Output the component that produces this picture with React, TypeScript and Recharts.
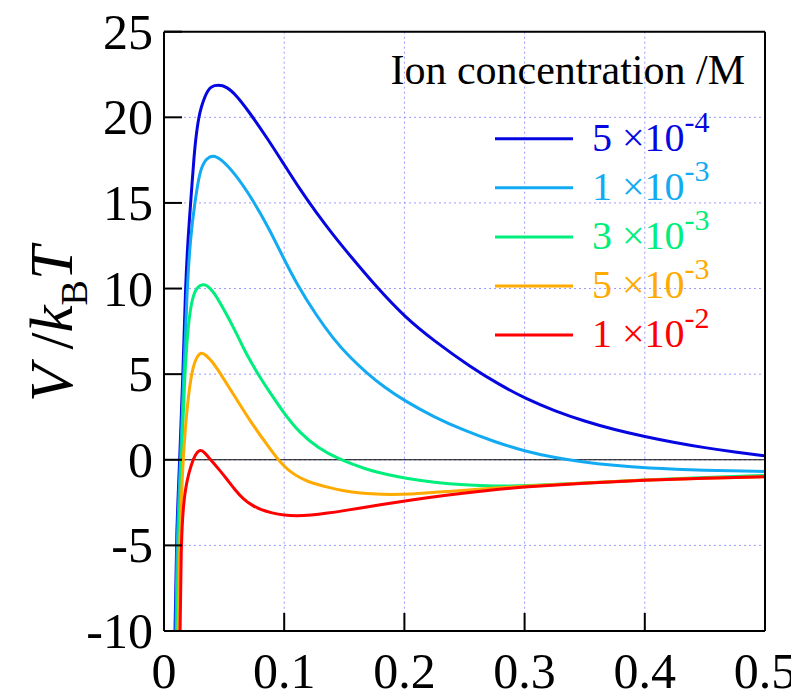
import {
  CartesianGrid,
  Legend,
  Line,
  LineChart,
  ReferenceLine,
  XAxis,
  YAxis,
} from "recharts";

const FONT = '"Liberation Serif", "Times New Roman", serif';

const xTicks = [0, 0.1, 0.2, 0.3, 0.4, 0.5];
const yTicks = [-10, -5, 0, 5, 10, 15, 20, 25];

// ion concentrations, legend label parts and colours
const seriesNames = ["5e-4", "1e-3", "3e-3", "5e-3", "1e-2"];
const mantissas = ["5", "1", "3", "5", "1"];
const exponents = ["-4", "-3", "-3", "-3", "-2"];
const colors = ["#0606e0", "#12aaf2", "#00ee7c", "#ffaa00", "#ff0000"];

// 5e-4 M
const x5e4 = [0.0085, 0.009, 0.0105, 0.0131, 0.0158, 0.0178, 0.02, 0.0222, 0.025, 0.027, 0.0289, 0.031, 0.0339, 0.0365, 0.039, 0.045, 0.052, 0.06, 0.07, 0.0867, 0.0994, 0.113, 0.127, 0.141, 0.155, 0.176, 0.2, 0.2245, 0.255, 0.28, 0.3, 0.325, 0.35, 0.375, 0.4, 0.425, 0.45, 0.475, 0.5];
const y5e4 = [-16, -10, -4, 0, 5, 10, 13, 15, 17.8, 19.1, 20, 20.6, 21.2, 21.55, 21.8, 21.9, 21.8, 21.3, 20.4, 18.7, 17.3, 15.8, 14.4, 13.1, 11.9, 10.15, 8.35, 6.95, 5.42, 4.35, 3.6, 2.85, 2.25, 1.75, 1.35, 1.0, 0.7, 0.45, 0.23];

// 1e-3 M
const x1e3 = [0.0093, 0.0098, 0.011, 0.0139, 0.0164, 0.0192, 0.022, 0.0256, 0.0297, 0.035, 0.0408, 0.047, 0.0589, 0.0728, 0.0867, 0.0994, 0.1106, 0.127, 0.141, 0.155, 0.169, 0.183, 0.2, 0.2245, 0.25, 0.275, 0.3, 0.325, 0.347, 0.375, 0.4, 0.45, 0.5];
const y1e3 = [-16, -10, -4, 0, 5, 10, 13, 15, 16.9, 17.6, 17.8, 17.6, 16.73, 15.3, 13.6, 11.78, 10.25, 8.4, 7.05, 5.95, 5.05, 4.25, 3.45, 2.5, 1.7, 1.05, 0.5, 0.12, -0.12, -0.34, -0.48, -0.62, -0.68];

// 3e-3 M
const x3e3 = [0.0098, 0.0106, 0.0118, 0.0144, 0.0172, 0.02, 0.023, 0.0265, 0.0305, 0.034, 0.038, 0.042, 0.046, 0.052, 0.0589, 0.0655, 0.0728, 0.08, 0.0867, 0.0994, 0.113, 0.128, 0.145, 0.169, 0.185, 0.2, 0.225, 0.25, 0.275, 0.3, 0.35, 0.4, 0.45, 0.5];
const y3e3 = [-16, -10, -5, 0, 5, 7.8, 9.3, 10.0, 10.22, 10.25, 10.05, 9.7, 9.25, 8.5, 7.58, 6.6, 5.64, 4.8, 4.08, 2.75, 1.56, 0.7, 0.04, -0.58, -0.86, -1.07, -1.33, -1.48, -1.54, -1.52, -1.36, -1.17, -1.04, -0.92];

// 5e-3 M
const x5e3 = [0.0107, 0.0117, 0.013, 0.0156, 0.0194, 0.0233, 0.027, 0.0311, 0.035, 0.04, 0.045, 0.0589, 0.0728, 0.0867, 0.0939, 0.1, 0.106, 0.113, 0.12, 0.128, 0.136, 0.15, 0.163, 0.18, 0.205, 0.236, 0.27, 0.3, 0.35, 0.4, 0.45, 0.5];
const y5e3 = [-16, -10, -5, 0, 3.3, 5.25, 6.0, 6.3, 6.1, 5.75, 5.25, 3.7, 2.14, 0.78, 0.1, -0.38, -0.75, -1.05, -1.28, -1.45, -1.6, -1.83, -1.95, -2.03, -2.02, -1.85, -1.67, -1.55, -1.36, -1.17, -1.07, -0.99];

// 1e-2 M
const x1e2 = [0.0127, 0.0133, 0.0142, 0.016, 0.019, 0.0228, 0.026, 0.0297, 0.033, 0.037, 0.041, 0.045, 0.052, 0.059, 0.066, 0.073, 0.08, 0.09, 0.1, 0.11, 0.122, 0.136, 0.15, 0.163, 0.18, 0.205, 0.236, 0.27, 0.3, 0.35, 0.4, 0.45, 0.5];
const y1e2 = [-16, -10, -5, -2.6, -1.2, -0.25, 0.3, 0.6, 0.48, 0.15, -0.17, -0.5, -1.1, -1.75, -2.3, -2.65, -2.9, -3.12, -3.24, -3.28, -3.24, -3.12, -2.97, -2.82, -2.62, -2.35, -2.05, -1.78, -1.58, -1.37, -1.18, -1.07, -0.99];

const seriesX = [x5e4, x1e3, x3e3, x5e3, x1e2];
const seriesY = [y5e4, y1e3, y3e3, y5e3, y1e2];

const toPoints = (xs: number[], ys: number[]) => xs.map((x, i) => ({ x, y: ys[i] }));

function YTick({ x, y, payload }: any) {
  return (
    <text x={x} y={y} dy={17} textAnchor="end" fontFamily={FONT} fontSize={50} fill="#000">
      {payload.value}
    </text>
  );
}

function XTick({ x, y, payload }: any) {
  return (
    <text x={x} y={y} dy={35.5} textAnchor="middle" fontFamily={FONT} fontSize={50} fill="#000">
      {payload.value}
    </text>
  );
}

function YLabel() {
  return (
    <text
      x={64}
      y={316}
      transform="rotate(-90 64 316)"
      textAnchor="middle"
      fontFamily={FONT}
      fontSize={61}
      fill="#000"
    >
      <tspan fontStyle="italic">V</tspan>{" /"}<tspan fontStyle="italic">k</tspan>
      <tspan fontSize={38} dy={15}>B</tspan>
      <tspan fontStyle="italic" dy={-15}>T</tspan>
    </text>
  );
}

// legend box sits at page (380, 40); everything inside is offset from there
function LegendBox() {
  return (
    <svg width={400} height={330} style={{ display: "block", overflow: "visible" }}>
      <text x={365} y={44} textAnchor="end" fontFamily={FONT} fontSize={42} fill="#000">
        Ion concentration /M
      </text>
      {seriesNames.map((name, i) => {
        const y = 98.7 + i * 49.1;
        return (
          <g key={name}>
            <line x1={115} x2={193} y1={y} y2={y} stroke={colors[i]} strokeWidth={3} />
            <text x={212} y={y + 12} fill={colors[i]} fontFamily={FONT} fontSize={40}>
              {mantissas[i]} ×10<tspan dy={-19} fontSize={30}>{exponents[i]}</tspan>
            </text>
          </g>
        );
      })}
    </svg>
  );
}

export default function App() {
  const frame = { stroke: "#000", strokeWidth: 2 };
  return (
    <div style={{ width: 791, height: 684, fontFamily: FONT }}>
      <LineChart width={791} height={684} margin={{ top: 22.7, right: 33, bottom: 1, left: 56 }}>
        <CartesianGrid
          xAxisId="bottom"
          yAxisId="left"
          stroke="#9a9aff"
          strokeDasharray="2 3"
        />
        <XAxis
          xAxisId="bottom"
          dataKey="x"
          type="number"
          domain={[0, 0.5]}
          ticks={xTicks}
          allowDataOverflow
          height={60}
          tickSize={-18}
          tickMargin={39.5}
          tick={<XTick />}
          axisLine={frame}
          tickLine={frame}
        />
        <XAxis
          xAxisId="top"
          orientation="top"
          dataKey="x"
          type="number"
          domain={[0, 0.5]}
          ticks={xTicks}
          allowDataOverflow
          height={1}
          tickSize={-18}
          tick={false}
          axisLine={frame}
          tickLine={frame}
        />
        <YAxis
          yAxisId="left"
          type="number"
          domain={[-10, 25]}
          ticks={yTicks}
          allowDataOverflow
          width={100}
          tickSize={-18}
          tickMargin={29}
          tick={<YTick />}
          axisLine={frame}
          tickLine={frame}
          label={{ content: () => <YLabel /> }}
        />
        <YAxis
          yAxisId="right"
          orientation="right"
          type="number"
          domain={[-10, 25]}
          ticks={yTicks}
          allowDataOverflow
          width={1}
          tickSize={-18}
          tick={false}
          axisLine={frame}
          tickLine={frame}
        />
        <ReferenceLine xAxisId="bottom" yAxisId="left" y={0} stroke="#000" strokeWidth={1} />
        {seriesNames.map((name, i) => (
          <Line
            key={name}
            xAxisId="bottom"
            yAxisId="left"
            data={toPoints(seriesX[i], seriesY[i])}
            dataKey="y"
            name={name}
            type="basis"
            stroke={colors[i]}
            strokeWidth={3}
            dot={false}
            activeDot={false}
            isAnimationActive={false}
          />
        ))}
        <Legend
          layout="vertical"
          align="center"
          verticalAlign="middle"
          content={<LegendBox />}
          wrapperStyle={{ position: "absolute", left: 372, top: 32, width: 400, height: 330 }}
        />
      </LineChart>
    </div>
  );
}
